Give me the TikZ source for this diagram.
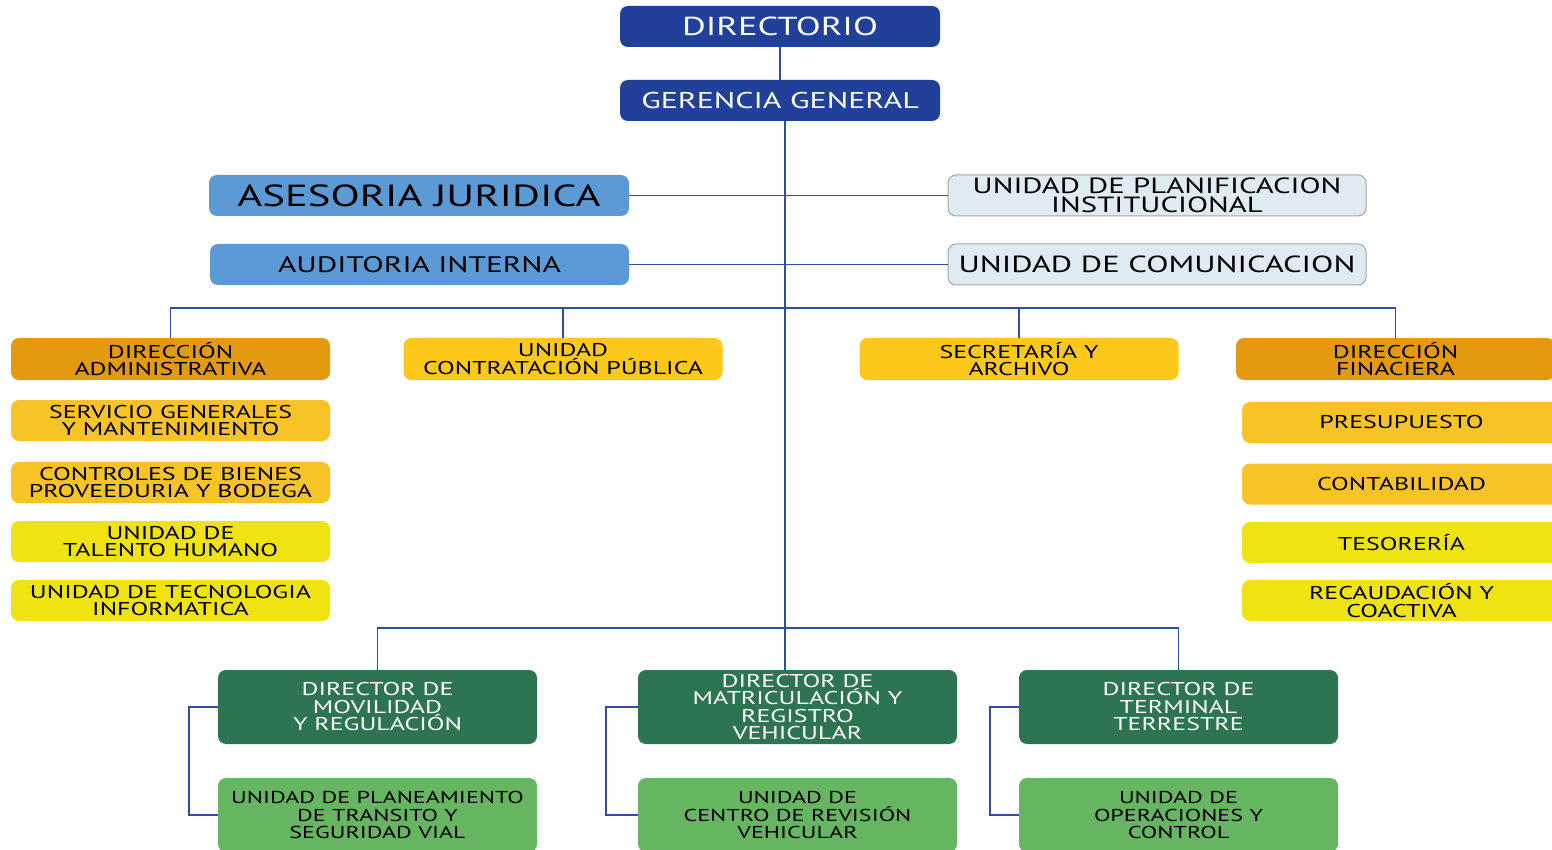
\documentclass[tikz,border=0pt]{standalone}
\usepackage{fontspec}
\setmainfont{PT Sans}[FakeStretch=1.4]
\usetikzlibrary{calc}
\definecolor{navy}{HTML}{21409A}
\definecolor{lineblue}{HTML}{2F4E9E}
\definecolor{skyb}{HTML}{5B9AD4}
\definecolor{paleb}{HTML}{DEEBF2}
\definecolor{darkor}{HTML}{E39A0E}
\definecolor{gold}{HTML}{FCC81A}
\definecolor{ambr}{HTML}{F8C326}
\definecolor{yell}{HTML}{F0E312}
\definecolor{dgreen}{HTML}{2D7550}
\definecolor{lgreen}{HTML}{66B560}
\tikzset{
  x=1pt,y=-1pt,
  box/.style={rounded corners=8pt, minimum width=319pt, minimum height=41pt, inner sep=0pt, align=center, text=black, font=\fontsize{18.5}{17.5}\selectfont},
  unitbox/.style={box, fill=lgreen, minimum height=74pt, font=\fontsize{17.2}{17.5}\selectfont},
  conn/.style={draw=lineblue, line width=1.9pt},
}
\begin{document}
\begin{tikzpicture}
\useasboundingbox (0,0) rectangle (1552,850);
\clip (0,0) rectangle (1552,850);
% top
\node[box, fill=navy, text=white, minimum width=320pt, font=\fontsize{26}{26}\selectfont] (dir) at (780,26.5) {DIRECTORIO};
\node[box, fill=navy, text=white, minimum width=320pt, font=\fontsize{22.8}{22}\selectfont] (ger) at (780,100.5) {GERENCIA GENERAL};
% staff
\node[box, fill=skyb, minimum width=420pt, font=\fontsize{30.5}{30}\selectfont] (ase) at (419,195.5) {ASESORIA JURIDICA};
\node[box, fill=skyb, minimum width=419pt, font=\fontsize{22.4}{22}\selectfont] (aud) at (419.5,264.5) {AUDITORIA INTERNA};
\node[box, fill=paleb, draw=gray!70, line width=1pt, minimum width=418pt, font=\fontsize{22}{19.5}\selectfont] (pla) at (1157,195.5) {UNIDAD DE PLANIFICACION\\INSTITUCIONAL};
\node[box, fill=paleb, draw=gray!70, line width=1pt, minimum width=418pt, font=\fontsize{23.3}{22}\selectfont] (com) at (1157,264.5) {UNIDAD DE COMUNICACION};
% row of four
\node[box, fill=darkor, minimum height=42pt] (adm) at (170.5,359) {DIRECCIÓN\\ADMINISTRATIVA};
\node[box, fill=gold, minimum height=42pt] (con) at (563,359) {UNIDAD\\CONTRATACIÓN PÚBLICA};
\node[box, fill=gold, minimum height=42pt] (sec) at (1019,359) {SECRETARÍA Y\\ARCHIVO};
\node[box, fill=darkor, minimum height=42pt] (fin) at (1395.5,359) {DIRECCIÓN\\FINACIERA};
% left column
\node[box, fill=ambr] (ser) at (170.5,420.5) {SERVICIO GENERALES\\Y MANTENIMIENTO};
\node[box, fill=ambr] (ctl) at (170.5,482.5) {CONTROLES DE BIENES\\PROVEEDURIA Y BODEGA};
\node[box, fill=yell] (tal) at (170.5,541.5) {UNIDAD DE\\TALENTO HUMANO};
\node[box, fill=yell] (tec) at (170.5,600.5) {UNIDAD DE TECNOLOGIA\\INFORMATICA};
% right column
\node[box, fill=ambr] (pre) at (1401.5,422.5) {PRESUPUESTO};
\node[box, fill=ambr] (cnt) at (1401.5,484) {CONTABILIDAD};
\node[box, fill=yell] (tes) at (1401.5,542.5) {TESORERÍA};
\node[box, fill=yell] (rec) at (1401.5,600.5) {RECAUDACIÓN Y\\COACTIVA};
% directors
\node[box, fill=dgreen, text=white, minimum height=74pt] (dmov) at (377.5,707) {DIRECTOR DE\\MOVILIDAD\\Y REGULACIÓN};
\node[box, fill=dgreen, text=white, minimum height=74pt] (dmat) at (797.5,707) {DIRECTOR DE\\MATRICULACIÓN Y\\REGISTRO\\VEHICULAR};
\node[box, fill=dgreen, text=white, minimum height=74pt] (dter) at (1178.5,707) {DIRECTOR DE\\TERMINAL\\TERRESTRE};
% units
\node[unitbox] (umov) at (377.5,815) {UNIDAD DE PLANEAMIENTO\\DE TRANSITO Y\\SEGURIDAD VIAL};
\node[unitbox] (umat) at (797.5,815) {UNIDAD DE\\CENTRO DE REVISIÓN\\VEHICULAR};
\node[unitbox] (uter) at (1178.5,815) {UNIDAD DE\\OPERACIONES Y\\CONTROL};
% connectors
\coordinate (mx) at (785,0);
\coordinate (bus1) at (785,308);
\coordinate (bus2) at (785,628);
\draw[conn] (dir.south) -- (ger.north);
\draw[conn] (ger.south -| mx) -- (dmat.north -| mx);
\draw[conn] (ase.east) -- (pla.west);
\draw[conn] (aud.east) -- (com.west);
\draw[conn] (adm.north) |- (bus1) -| (fin.north);
\draw[conn] (con.north) -- (con.north |- bus1);
\draw[conn] (sec.north) -- (sec.north |- bus1);
\draw[conn] (dmov.north) |- (bus2) -| (dter.north);
\draw[conn] (dmov.west) -- ++(-29,0) |- (umov.west);
\draw[conn] (dmat.west) -- ++(-32,0) |- (umat.west);
\draw[conn] (dter.west) -- ++(-29,0) |- (uter.west);
\end{tikzpicture}
\end{document}
